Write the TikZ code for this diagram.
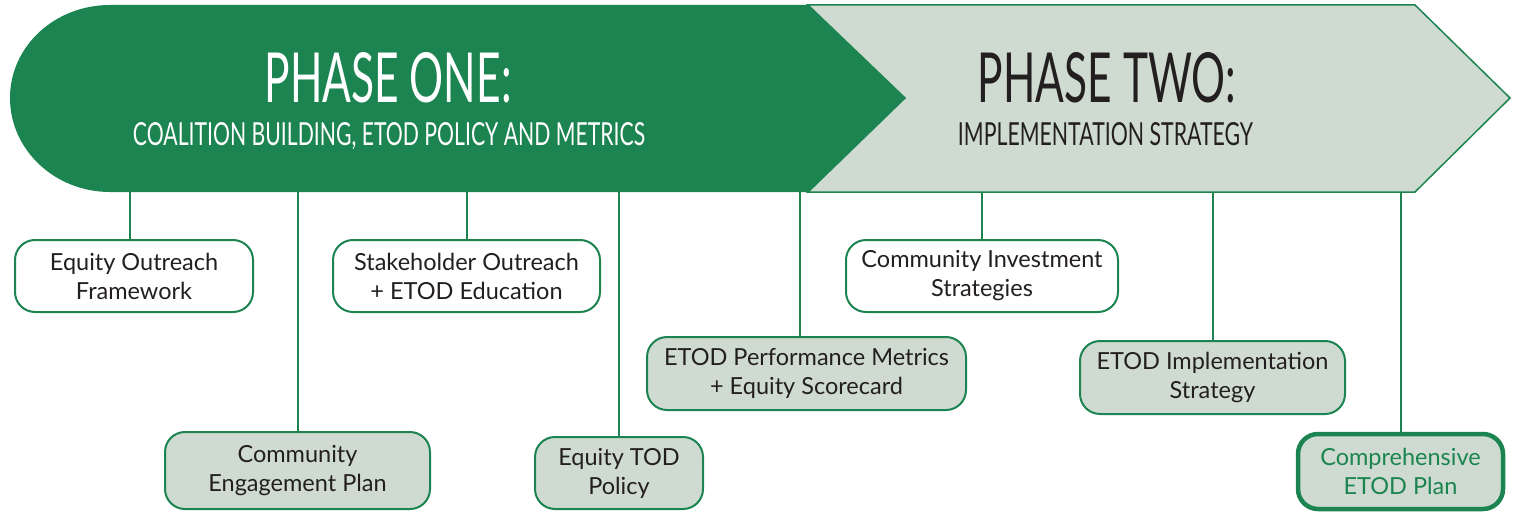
\documentclass[tikz,border=0pt]{standalone}
\usepackage{fontspec}
\setsansfont{Lato}
\usepackage{graphicx}
\definecolor{etodgreen}{HTML}{1B8450}
\definecolor{etodgrey}{HTML}{CFDBD0}
\definecolor{etodtext}{HTML}{231F20}
\newcommand{\headtext}[3]{\resizebox{#1pt}{#2pt}{\sffamily #3}}
\tikzset{
  item/.style={draw=etodgreen, line width=2pt, rounded corners=20pt, align=center,
    font=\sffamily\fontsize{23.5}{29}\selectfont, text=etodtext, inner sep=0pt},
  open/.style={item, fill=white},
  done/.style={item, fill=etodgrey},
  link/.style={draw=etodgreen, line width=2pt},
}
\begin{document}
\begin{tikzpicture}[x=1pt,y=-1pt]
\useasboundingbox (0,0) rectangle (1514,511);
% the two phase bands
\filldraw[fill=etodgrey, draw=etodgreen, line width=1.5pt] (808,5) -- (1415,5) -- (1510,98) -- (1415,192) -- (808,192) -- (905,98) -- cycle;
\fill[etodgreen] (110,5) -- (808,5) -- (905,98) -- (808,192) -- (110,192)
  .. controls (55,192) and (10,150) .. (10,98) .. controls (10,46) and (55,5) .. (110,5) -- cycle;
\coordinate (bandbot) at (0,192);
\node[anchor=base, text=white, inner sep=0pt] (one) at (388,102) {\headtext{247}{50}{PHASE ONE:}};
\node[anchor=base, text=white, inner sep=0pt] (onesub) at (389,145) {\headtext{512}{23}{COALITION BUILDING, ETOD POLICY AND METRICS}};
\node[anchor=base, text=etodtext, inner sep=0pt] (two) at (1107,102) {\headtext{258}{50}{PHASE TWO:}};
\node[anchor=base, text=etodtext, inner sep=0pt] (twosub) at (1105.5,145) {\headtext{295}{23}{IMPLEMENTATION STRATEGY}};

% deliverables
\node[open, minimum width=238pt, minimum height=72pt] (outreach) at (134,276) {Equity Outreach\\Framework};
\node[open, minimum width=267pt, minimum height=72pt] (stake) at (466.5,276) {Stakeholder Outreach\\+ ETOD Education};
\node[open, minimum width=272pt, minimum height=72pt] (invest) at (982,276) {Community Investment\\Strategies};
\node[done, minimum width=265pt, minimum height=77pt] (engage) at (297.5,470.5) {Community\\Engagement Plan};
\node[done, minimum width=168pt, minimum height=72pt] (policy) at (619,473) {Equity TOD\\Policy};
\node[done, minimum width=319pt, minimum height=73pt] (metrics) at (806.5,373.5) {ETOD Performance Metrics\\+ Equity Scorecard};
\node[done, minimum width=265pt, minimum height=73pt] (impl) at (1212.5,377.5) {ETOD Implementation\\Strategy};
\node[done, line width=4.5pt, text=etodgreen, minimum width=205pt, minimum height=75pt] (plan) at (1400.5,471.5) {Comprehensive\\ETOD Plan};

\foreach \b/\dx in {outreach/-4,stake/0,engage/0,policy/0,metrics/-7,invest/0,impl/0,plan/0}
  \draw[link] ([xshift=\dx pt]\b.north) -- ([xshift=\dx pt]\b.north |- bandbot);
\end{tikzpicture}
\end{document}
